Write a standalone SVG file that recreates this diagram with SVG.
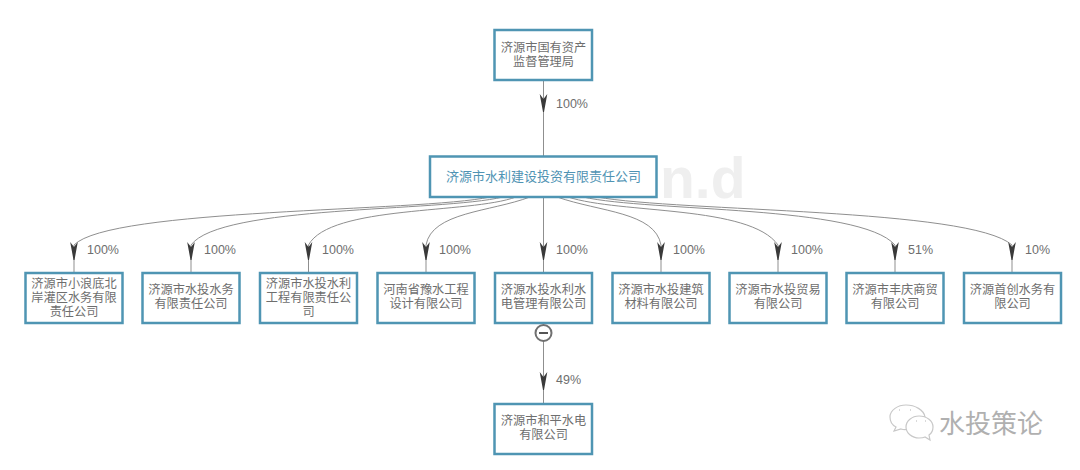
<svg xmlns="http://www.w3.org/2000/svg" width="1080" height="470" viewBox="0 0 1080 470">
<style>
text{font-family:"Liberation Sans","Noto Sans CJK SC",sans-serif}
.box{fill:#fff;stroke:#4f95b3;stroke-width:2.5}
.t{font-size:12.2px;fill:#6e6e6e;text-anchor:middle}
.m{font-size:13px;fill:#4f93b3;text-anchor:middle}
.p{font-size:12.500px;fill:#6e6e6e}
.e{fill:none;stroke:#8f8f8f;stroke-width:1}
.a{fill:#3a3a3a}
</style>
<defs><path id="h" d="M-3.800 -9 L0 -4 L3.800 -9 L0.500 9 L-0.500 9 Z"/></defs>
<g id="watermark"><text x="660" y="198" font-size="57" font-weight="bold" fill="#efefef">n.d</text></g>
<g id="connectors">
<path class="e" d="M543.500 80V156"/>
<path class="e" d="M490 197C420 212 110 208 74 245V273"/>
<path class="e" d="M503 197C440 212 220 205 191 245V273"/>
<path class="e" d="M516 197C470 214 330 205 308.500 245V273"/>
<path class="e" d="M530 197C490 212 432 212 426 245V273"/>
<path class="e" d="M543.500 197V273"/>
<path class="e" d="M557 197C600 212 655 212 661 245V273"/>
<path class="e" d="M568 197C620 214 750 205 778 245V273"/>
<path class="e" d="M583 197C650 212 860 205 895 245V273"/>
<path class="e" d="M597 197C680 212 970 208 1012 245V273"/>
<path class="e" d="M543.500 341V404"/>
<use href="#h" class="a" x="543.500" y="103"/>
<use href="#h" class="a" x="74" y="251"/>
<use href="#h" class="a" x="191" y="251"/>
<use href="#h" class="a" x="308.500" y="251"/>
<use href="#h" class="a" x="426" y="251"/>
<use href="#h" class="a" x="543.500" y="251"/>
<use href="#h" class="a" x="661" y="251"/>
<use href="#h" class="a" x="778" y="251"/>
<use href="#h" class="a" x="895" y="251"/>
<use href="#h" class="a" x="1012" y="251"/>
<use href="#h" class="a" x="543.500" y="381"/>
</g>
<g id="labels">
<text class="p" x="556" y="108">100%</text>
<text class="p" x="87" y="254">100%</text>
<text class="p" x="204" y="254">100%</text>
<text class="p" x="322" y="254">100%</text>
<text class="p" x="439" y="254">100%</text>
<text class="p" x="556" y="254">100%</text>
<text class="p" x="673" y="254">100%</text>
<text class="p" x="791" y="254">100%</text>
<text class="p" x="908" y="254">51%</text>
<text class="p" x="1025" y="254">10%</text>
<text class="p" x="556" y="384">49%</text>
</g>
<g id="n0"><rect class="box" x="494.500" y="30" width="97.500" height="50"/><text class="t" x="543.500" y="52">济源市国有资产</text><text class="t" x="543.500" y="66">监督管理局</text></g>
<g id="n1"><rect class="box" x="430" y="156.500" width="226.500" height="40.500"/><text class="m" x="543.500" y="181">济源市水利建设投资有限责任公司</text></g>
<g id="c1"><rect class="box" x="25.500" y="273" width="97" height="50"/><text class="t" x="74" y="288">济源市小浪底北</text><text class="t" x="74" y="302">岸灌区水务有限</text><text class="t" x="74" y="316">责任公司</text></g>
<g id="c2"><rect class="box" x="142.500" y="273" width="97" height="50"/><text class="t" x="191" y="294">济源市水投水务</text><text class="t" x="191" y="308">有限责任公司</text></g>
<g id="c3"><rect class="box" x="260" y="273" width="97" height="50"/><text class="t" x="308.500" y="288">济源市水投水利</text><text class="t" x="308.500" y="302">工程有限责任公</text><text class="t" x="308.500" y="316">司</text></g>
<g id="c4"><rect class="box" x="377.500" y="273" width="97" height="50"/><text class="t" x="426" y="294">河南省豫水工程</text><text class="t" x="426" y="308">设计有限公司</text></g>
<g id="c5"><rect class="box" x="495" y="273" width="97" height="50"/><text class="t" x="543.500" y="294">济源水投水利水</text><text class="t" x="543.500" y="308">电管理有限公司</text></g>
<g id="c6"><rect class="box" x="612.500" y="273" width="97" height="50"/><text class="t" x="661" y="294">济源市水投建筑</text><text class="t" x="661" y="308">材料有限公司</text></g>
<g id="c7"><rect class="box" x="729.500" y="273" width="97" height="50"/><text class="t" x="778" y="294">济源市水投贸易</text><text class="t" x="778" y="308">有限公司</text></g>
<g id="c8"><rect class="box" x="846.500" y="273" width="97" height="50"/><text class="t" x="895" y="294">济源市丰庆商贸</text><text class="t" x="895" y="308">有限公司</text></g>
<g id="c9"><rect class="box" x="964" y="273" width="97" height="50"/><text class="t" x="1012.500" y="294">济源首创水务有</text><text class="t" x="1012.500" y="308">限公司</text></g>
<g id="collapse"><circle cx="543.500" cy="333" r="8" fill="#fff" stroke="#707070" stroke-width="2"/><path d="M539 333H548" stroke="#555" stroke-width="2"/></g>
<g id="c10"><rect class="box" x="494.500" y="404" width="97.500" height="50"/><text class="t" x="543.500" y="425">济源市和平水电</text><text class="t" x="543.500" y="439">有限公司</text></g>
<g id="wechat" fill="#fff" stroke="#c8c8c8" stroke-width="1.200">
<path d="M906 405C898 405 890 410 890 417C890 421 892 425 896 427L894 431L901 429C904 430 906 430 908 429C909 423 915 418 925 417C924 410 915 405 906 405Z"/>
<path d="M919 416C912 416 906 421 906 427C906 433 912 438 919 438C921 438 923 438 925 437L930 440L929 435C932 433 933 430 933 427C933 421 927 416 919 416Z"/>
<path d="M899 410h1M910 410h1M916 421h1M925 421h1" stroke="#b5b5b5"/>
</g>
<g id="wm-text"><text x="939" y="433" font-size="26" fill="#b0b0b0">水投策论</text></g>
</svg>
